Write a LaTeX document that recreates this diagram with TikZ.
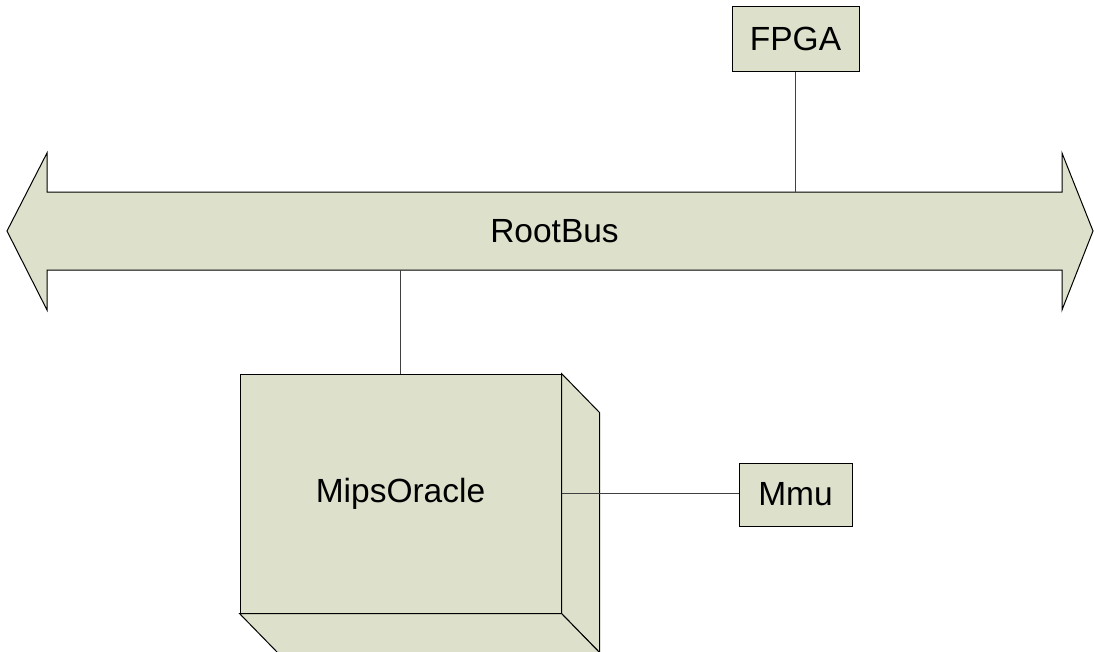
\documentclass[tikz,border=0pt]{standalone}
\usepackage{fontspec}
\setmainfont{Liberation Sans}
\usetikzlibrary{calc}
\begin{document}
\begin{tikzpicture}[x=1pt,y=-1pt,
  shapefill/.style={fill=boxfill,draw=black,line width=1pt},
  blockbox/.style={shapefill,rectangle,inner sep=0pt,font=\fontsize{33.5}{40}\selectfont},
  link/.style={draw=black!75,line width=1pt}]
\definecolor{boxfill}{RGB}{221,224,203}
\useasboundingbox (0,0) rectangle (1094,651);
\clip (0,0) rectangle (1094,651);

% double-headed bus arrow
\draw[shapefill,line join=miter]
  (7,231) -- (47,153) -- (47,192) -- (1062,192) -- (1062,153) -- (1093,231)
  -- (1062,310) -- (1062,270) -- (47,270) -- (47,310) -- cycle;
\node[inner sep=0pt,minimum width=1015pt,minimum height=78pt,
      font=\fontsize{33.5}{40}\selectfont] (bus) at (554.5,231) {RootBus};

% FPGA block
\node[blockbox,minimum width=127pt,minimum height=65pt] (fpga) at (795.5,38.5) {FPGA};

% MipsOracle 3D block: side and bottom faces behind the front face
\node[blockbox,minimum width=321pt,minimum height=239pt] (mips) at (400.5,493.5) {};
\draw[shapefill,line join=miter]
  (mips.north east) -- ++(38,39) -- ($(mips.south east)+(38,39)$) -- (mips.south east) -- cycle;
\draw[shapefill,line join=miter]
  (mips.south west) -- ++(38,39) -- ($(mips.south east)+(38,39)$) -- (mips.south east) -- cycle;
\node[blockbox,minimum width=321pt,minimum height=239pt] at (mips) {MipsOracle};

% Mmu block
\node[blockbox,minimum width=113pt,minimum height=63pt] (mmu) at (795.5,494.5) {Mmu};

% connectors
\draw[link] (fpga.south) -- (fpga.south |- bus.north);
\draw[link] (bus.south -| mips.north) -- (mips.north);
\draw[link] (mips.east) -- (mips.east -| mmu.west);
\end{tikzpicture}
\end{document}
